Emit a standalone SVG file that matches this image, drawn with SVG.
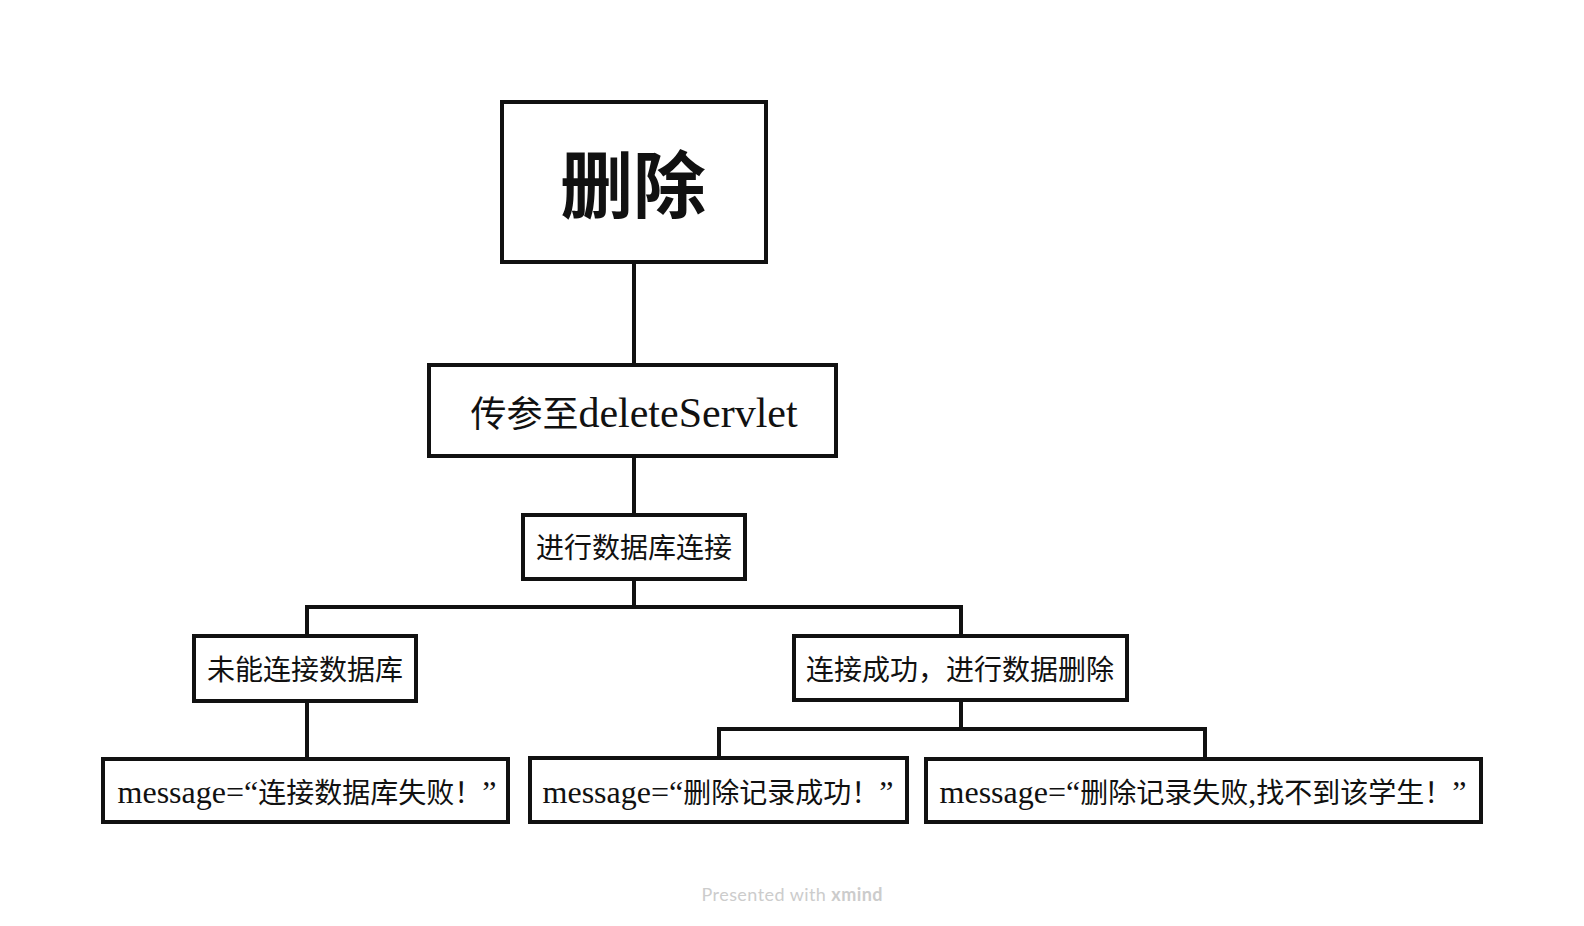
<svg xmlns="http://www.w3.org/2000/svg" width="1584" height="926" viewBox="0 0 1584 926">
  <style>
    .box { fill: #ffffff; stroke: #111111; stroke-width: 4; }
    .conn { fill: none; stroke: #111111; stroke-width: 4; stroke-linejoin: miter; stroke-linecap: butt; }
    text { fill: #111111; text-anchor: middle; }
    .cjk { font-family: "Noto Sans CJK SC", "Noto Sans", sans-serif; font-size: 28px; }
    .lat { font-family: "Liberation Serif", "Noto Sans CJK SC", serif; font-size: 32px; }
    .title { font-family: "Noto Sans CJK SC", "Noto Sans", sans-serif; font-size: 73px; font-weight: 700; }
    .wm { font-family: Lato, "Liberation Sans", sans-serif; font-size: 18px; fill: #cccccc; }
  </style>
  <rect width="1584" height="926" fill="#ffffff"/>
  <g id="connectors">
    <path class="conn" d="M634 262 V365"/>
    <path class="conn" d="M634 456 V515"/>
    <path class="conn" d="M634 579 V607"/>
    <path class="conn" d="M307 636 V607 H961 V636"/>
    <path class="conn" d="M307 701 V759"/>
    <path class="conn" d="M961 700 V729"/>
    <path class="conn" d="M719 758 V729 H1205 V759"/>
  </g>
  <g id="node-root">
    <rect class="box" x="502" y="102" width="264" height="160"/>
    <text class="title" x="633" y="212">删除</text>
  </g>
  <g id="node-servlet">
    <rect class="box" x="429" y="365" width="407" height="91"/>
    <text x="634" y="427"><tspan class="cjk" style="font-size:36px">传参至</tspan><tspan class="lat" style="font-size:42px">deleteServlet</tspan></text>
  </g>
  <g id="node-connect">
    <rect class="box" x="523" y="515" width="222" height="64"/>
    <text class="cjk" x="634" y="558">进行数据库连接</text>
  </g>
  <g id="node-fail-connect">
    <rect class="box" x="194" y="636" width="222" height="65"/>
    <text class="cjk" x="305" y="680">未能连接数据库</text>
  </g>
  <g id="node-success">
    <rect class="box" x="794" y="636" width="333" height="64"/>
    <text class="cjk" x="960" y="680">连接成功，进行数据删除</text>
  </g>
  <g id="node-msg-fail-connect">
    <rect class="box" x="103" y="759" width="405" height="63"/>
    <text x="307" y="803"><tspan class="lat">message=“</tspan><tspan class="cjk">连接数据库失败！</tspan><tspan class="lat">”</tspan></text>
  </g>
  <g id="node-msg-success">
    <rect class="box" x="530" y="758" width="377" height="64"/>
    <text x="718" y="803"><tspan class="lat">message=“</tspan><tspan class="cjk">删除记录成功！</tspan><tspan class="lat">”</tspan></text>
  </g>
  <g id="node-msg-fail-delete">
    <rect class="box" x="926" y="759" width="555" height="63"/>
    <text x="1203" y="803"><tspan class="lat">message=“</tspan><tspan class="cjk">删除记录失败</tspan><tspan class="lat">,</tspan><tspan class="cjk">找不到该学生！</tspan><tspan class="lat">”</tspan></text>
  </g>
  <text class="wm" x="792" y="901" textLength="181" lengthAdjust="spacing">Presented with <tspan font-weight="700">xmind</tspan></text>
</svg>
